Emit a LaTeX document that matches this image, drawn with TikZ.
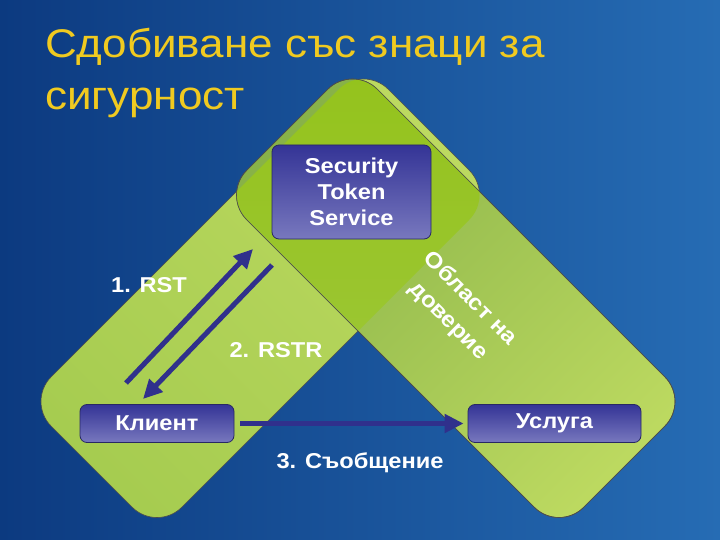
\documentclass[tikz,border=0pt]{standalone}
\usepackage{fontspec}
\setmainfont{Liberation Sans}[FakeStretch=1.1]
\usetikzlibrary{arrows.meta,positioning}

\definecolor{bgdeep}{RGB}{12,58,128}
\definecolor{bgdark}{RGB}{22,82,154}
\definecolor{bglight}{RGB}{38,108,180}
\definecolor{titleyellow}{RGB}{240,202,32}
\definecolor{bandlight}{RGB}{188,217,96}
\definecolor{bandmid}{RGB}{166,204,80}
\definecolor{bandolive}{RGB}{136,178,72}
\definecolor{zonegreen}{RGB}{148,195,28}
\definecolor{zonelow}{RGB}{160,200,64}
\definecolor{boxtop}{RGB}{52,52,150}
\definecolor{boxbottom}{RGB}{120,120,190}
\definecolor{boxline}{RGB}{40,40,100}
\definecolor{arrowblue}{RGB}{48,48,140}

\tikzset{
  actor/.style={draw=boxline, line width=0.8pt, rounded corners=7pt,
    top color=boxtop, bottom color=boxbottom, text=white, align=center,
    font=\bfseries\fontsize{21.5}{26}\selectfont, inner sep=0pt},
  msg/.style={text=white, font=\bfseries\fontsize{21.5}{28}\selectfont},
  flow/.style={draw=arrowblue, line width=5pt, -{Triangle[length=19pt,width=18pt]}},
  band/.style={draw=black!70, line width=0.6pt, rounded corners=35pt},
  heading/.style={anchor=base west, text=titleyellow, inner sep=0pt,
    font=\fontsize{40}{48}\selectfont},
}

\begin{document}
\begin{tikzpicture}[x=1pt,y=-1pt]
	\useasboundingbox (0,0) rectangle (720,540);
	\shade[left color=bgdeep, middle color=bgdark, right color=bglight] (0,0) rectangle (720,540);
	%
	\node[heading] (title) at (45,58) {Сдобиване със знаци за};
	\node[heading] (subtitle) at (45,110) {сигурност};
	%
	\coordinate (lbB) at (157,532);   \coordinate (lbL) at (26.5,401.5);
	\coordinate (lbT) at (363.5,64.5); \coordinate (lbR) at (494,195);
	\coordinate (rbB) at (559,532);   \coordinate (rbR) at (689.5,401.5);
	\coordinate (rbT) at (352.5,64.5); \coordinate (rbL) at (222,195);
	%
	\shade[band, left color=bandlight, right color=bandmid, shading angle=-45] (lbB) -- (lbL) -- (lbT) -- (lbR) -- cycle;
	\shade[band, left color=bandolive, right color=bandlight, shading angle=45] (rbB) -- (rbR) -- (rbT) -- (rbL) -- cycle;
	\begin{scope}
		\clip[rounded corners=35pt] (lbB) -- (lbL) -- (lbT) -- (lbR) -- cycle;
		\shade[top color=zonegreen, bottom color=zonelow, rounded corners=35pt] (rbB) -- (rbR) -- (rbT) -- (rbL) -- cycle;
	\end{scope}
	\draw[band] (rbB) -- (rbR) -- (rbT) -- (rbL) -- cycle;
	%
	\node[actor, minimum width=159pt, minimum height=94pt] (sts) at (351.5,192) {Security\\Token\\Service};
	\node[actor, minimum width=154pt, minimum height=38pt] (client) at (157,423.5) {Клиент};
	\node[actor, minimum width=173pt, minimum height=38pt] (service) at (554.5,423.5) {Услуга};
	%
	\coordinate (rstA) at (126,383);  \coordinate (rstB) at (253,249);
	\coordinate (rstrA) at (272,265); \coordinate (rstrB) at (143,399);
	\draw[flow] (rstA) -- (rstB);
	\draw[flow] (rstrA) -- (rstrB);
	\draw[flow, shorten <=6pt, shorten >=4pt] (client) -- (service);
	%
	\node[msg] (rst) at (149,285) {1. RST};
	\node[msg] (rstr) at (276,350) {2. RSTR};
	\node[msg] (message) at (360,463) {3. Съобщение};
	\node[msg, rotate=-45, align=center, font=\bfseries\fontsize{22}{31}\selectfont] (trust) at (459,310) {Област на\\доверие};
\end{tikzpicture}
\end{document}
